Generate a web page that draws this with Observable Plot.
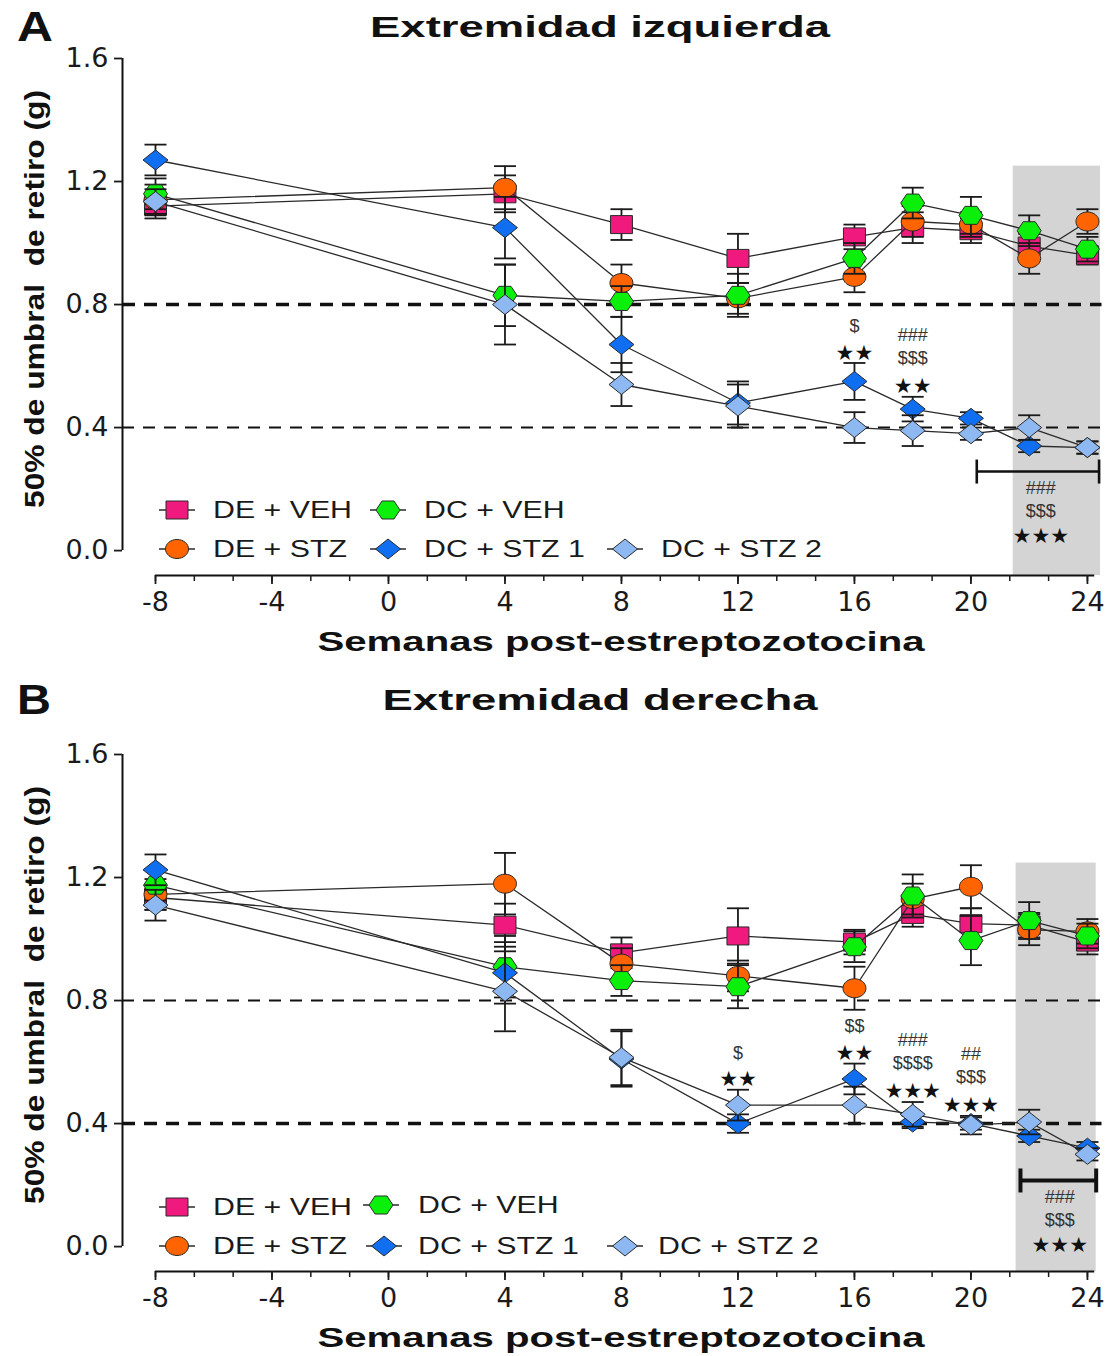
<!DOCTYPE html>
<html><head><meta charset="utf-8">
<script src="https://cdn.jsdelivr.net/npm/d3@7"></script>
<script src="https://cdn.jsdelivr.net/npm/@observablehq/plot@0.6"></script>
<style>
body{margin:0;background:#fff;}
#root{position:relative;width:1111px;height:1356px;overflow:hidden;font-family:"Liberation Sans",Arial,sans-serif;color:#111;}
.abs{position:absolute;white-space:pre;line-height:1;}
</style></head><body><div id="root"></div>
<script>
// ---------------- DATA ----------------
const weeks = [-8, 4, 8, 12, 16, 18, 20, 22, 24];
const groups = ["DE + VEH", "DE + STZ", "DC + VEH", "DC + STZ 1", "DC + STZ 2"];

// Panel A: Extremidad izquierda (mean, SEM)
const izqDEVEH   = [1.12, 1.16, 1.06, 0.95, 1.02, 1.05, 1.04, 0.99, 0.96];
const izqDEVEHe  = [0.04, 0.06, 0.05, 0.08, 0.04, 0.05, 0.04, 0.04, 0.03];
const izqDESTZ   = [1.14, 1.18, 0.87, 0.82, 0.89, 1.07, 1.06, 0.95, 1.07];
const izqDESTZe  = [0.05, 0.07, 0.06, 0.05, 0.05, 0.05, 0.04, 0.05, 0.04];
const izqDCVEH   = [1.16, 0.83, 0.81, 0.83, 0.95, 1.13, 1.09, 1.04, 0.98];
const izqDCVEHe  = [0.05, 0.10, 0.05, 0.07, 0.05, 0.05, 0.06, 0.05, 0.04];
const izqDCSTZ1  = [1.27, 1.05, 0.67, 0.48, 0.55, 0.46, 0.43, 0.34, 0.335];
const izqDCSTZ1e = [0.05, 0.10, 0.09, 0.07, 0.06, 0.04, 0.02, 0.02, 0.02];
const izqDCSTZ2  = [1.135, 0.80, 0.54, 0.47, 0.40, 0.39, 0.38, 0.40, 0.335];
const izqDCSTZ2e = [0.04, 0.13, 0.07, 0.07, 0.05, 0.05, 0.02, 0.04, 0.02];

// Panel B: Extremidad derecha (mean, SEM)
const derDEVEH   = [1.135, 1.045, 0.955, 1.01, 0.99, 1.08, 1.05, 1.045, 0.99];
const derDEVEHe  = [0.04, 0.07, 0.05, 0.09, 0.04, 0.04, 0.05, 0.04, 0.04];
const derDESTZ   = [1.145, 1.18, 0.92, 0.88, 0.84, 1.13, 1.17, 1.03, 1.025];
const derDESTZe  = [0.05, 0.10, 0.05, 0.05, 0.07, 0.05, 0.07, 0.05, 0.04];
const derDCVEH   = [1.175, 0.91, 0.865, 0.845, 0.975, 1.14, 0.995, 1.06, 1.01];
const derDCVEHe  = [0.05, 0.10, 0.05, 0.07, 0.05, 0.07, 0.08, 0.06, 0.04];
const derDCSTZ1  = [1.225, 0.89, 0.61, 0.40, 0.545, 0.405, 0.40, 0.36, 0.32];
const derDCSTZ1e = [0.05, 0.10, 0.09, 0.03, 0.05, 0.02, 0.02, 0.02, 0.02];
const derDCSTZ2  = [1.11, 0.83, 0.615, 0.46, 0.46, 0.43, 0.395, 0.405, 0.30];
const derDCSTZ2e = [0.05, 0.13, 0.09, 0.05, 0.06, 0.04, 0.03, 0.04, 0.02];

// reference lines
const dashThickA = [0.8], dashThinA = [0.4];
const dashThickB = [0.4], dashThinB = [0.8];

// shaded window (weeks) and its top
const shadeA = {x1: 21.45, x2: 24.45, y2: 1.25};
const shadeB = {x1: 21.55, x2: 24.3, y2: 1.247};

// significance annotations (bottom-to-top lines), anchored on a series' upper error bar
const annotA = [
  {x: 16, series: "DC + STZ 1", labels: ["**", "$"]},
  {x: 18, series: "DC + STZ 1", labels: ["**", "$$$", "###"]}
];
const annotB = [
  {x: 12, series: "DC + STZ 2", labels: ["**", "$"]},
  {x: 16, series: "DC + STZ 1", labels: ["**", "$$"]},
  {x: 18, series: "DC + STZ 2", labels: ["***", "$$$$", "###"]},
  {x: 20, series: "DC + STZ 2", labels: ["***", "$$$", "##"]}
];
// bracket over a range of weeks with labels below it
const bracketA = {x1: 20.2, x2: 24.4, y: 0.257, cx: 22.4, labels: ["###", "$$$", "***"]};
const bracketB = {x1: 21.7, x2: 24.3, y: 0.215, cx: 23.05, labels: ["###", "$$$", "***"]};

// axis ticks
const xTicks = [-8, -4, 0, 4, 8, 12, 16, 20, 24];
const xMinorTicks = d3.range(-8, 24.01, 4 / 3);
const yTicks = [0, 0.4, 0.8, 1.2, 1.6];

// ---------------- STYLE ----------------
const colors = {"DE + VEH": "#F0197D", "DE + STZ": "#FF6400", "DC + VEH": "#0BF00B", "DC + STZ 1": "#0F6FF0", "DC + STZ 2": "#8DB8F2"};
const shapeSquare = {draw(c){c.moveTo(-11,-9);c.lineTo(11,-9);c.lineTo(11,9);c.lineTo(-11,9);c.closePath();}};
const shapeEllipse = {draw(c){const a=11.5,b=9.5,k=0.5523;c.moveTo(a,0);c.bezierCurveTo(a,b*k,a*k,b,0,b);c.bezierCurveTo(-a*k,b,-a,b*k,-a,0);c.bezierCurveTo(-a,-b*k,-a*k,-b,0,-b);c.bezierCurveTo(a*k,-b,a,-b*k,a,0);c.closePath();}};
const shapeHex = {draw(c){c.moveTo(-12,0);c.lineTo(-6,-9);c.lineTo(6,-9);c.lineTo(12,0);c.lineTo(6,9);c.lineTo(-6,9);c.closePath();}};
const shapeDiamond = {draw(c){c.moveTo(0,-10);c.lineTo(12.5,0);c.lineTo(0,10);c.lineTo(-12.5,0);c.closePath();}};
const shapes = {"DE + VEH": shapeSquare, "DE + STZ": shapeEllipse, "DC + VEH": shapeHex, "DC + STZ 1": shapeDiamond, "DC + STZ 2": shapeDiamond};
const capH = {draw(c){c.moveTo(-11,0);c.lineTo(11,0);}};
const capV = {draw(c){c.moveTo(0,-12);c.lineTo(0,12);}};

const X_MIN = -9.133, X_MAX = 24.5, Y_MIN = -0.081;

function buildRows(means, errs) {
  const rows = [];
  groups.forEach((g, gi) => weeks.forEach((w, i) => rows.push({group: g, week: w, v: means[gi][i], e: errs[gi][i]})));
  return rows;
}
const rowsA = buildRows([izqDEVEH, izqDESTZ, izqDCVEH, izqDCSTZ1, izqDCSTZ2], [izqDEVEHe, izqDESTZe, izqDCVEHe, izqDCSTZ1e, izqDCSTZ2e]);
const rowsB = buildRows([derDEVEH, derDESTZ, derDCVEH, derDCSTZ1, derDCSTZ2], [derDEVEHe, derDESTZe, derDCVEHe, derDCSTZ1e, derDCSTZ2e]);

const star = s => s.replace(/\*/g, "★");
const starStyle = {fontSize: 21, fontFamily: "DejaVu Sans", fill: "#111", letterSpacing: 1};
const symStyle = {fontSize: 18, fontFamily: "Liberation Sans", fill: "#333", letterSpacing: 3};

function drawPanel(rows, cfg) {
  const marks = [
    Plot.rect([cfg.shade], {x1: "x1", x2: "x2", y1: Y_MIN, y2: "y2", fill: "#d4d4d4"}),
    Plot.ruleY(cfg.thin, {stroke: "#111", strokeWidth: 2, strokeDasharray: "12,9"}),
    Plot.ruleY(cfg.thick, {stroke: "#111", strokeWidth: 3.4, strokeDasharray: "13,9"}),
    Plot.ruleX([X_MIN], {y1: 0, y2: 1.6, stroke: "#111", strokeWidth: 2}),
    Plot.ruleY([Y_MIN], {x1: -8, x2: 24.25, stroke: "#111", strokeWidth: 2}),
    Plot.axisY(yTicks, {anchor: "left", tickSize: 8, tickPadding: 6, tickFormat: d => d.toFixed(1), fontSize: 27, fontFamily: "DejaVu Sans", strokeWidth: 1.8, label: null}),
    Plot.axisX(xTicks, {anchor: "bottom", tickSize: 9, tickPadding: 7, tickFormat: d => String(d), fontSize: 27, fontFamily: "DejaVu Sans", strokeWidth: 1.8, label: null}),
    Plot.axisX(xMinorTicks, {anchor: "bottom", tickSize: 6, tickFormat: () => "", strokeWidth: 1.5, label: null})
  ];
  for (const g of groups) {
    const rg = rows.filter(d => d.group === g);
    marks.push(
      Plot.line(rg, {x: "week", y: "v", stroke: "#2a2a2a", strokeWidth: 1.3}),
      Plot.ruleX(rg, {x: "week", y1: d => d.v - d.e, y2: d => d.v + d.e, stroke: "#1a1a1a", strokeWidth: 1.8}),
      Plot.dot(rg, {x: "week", y: d => d.v + d.e, symbol: capH, fill: "none", stroke: "#1a1a1a", strokeWidth: 1.8}),
      Plot.dot(rg, {x: "week", y: d => d.v - d.e, symbol: capH, fill: "none", stroke: "#1a1a1a", strokeWidth: 1.8}),
      Plot.dot(rg, {x: "week", y: "v", symbol: shapes[g], fill: colors[g], stroke: "#2a2a2a", strokeWidth: 1})
    );
  }
  // annotations
  const two = [-12, -37], three = [-13, -39, -62];
  const annRows = [];
  for (const a of cfg.annot) {
    const r = rows.find(d => d.group === a.series && d.week === a.x);
    const offs = a.labels.length === 2 ? two : three;
    a.labels.forEach((l, k) => annRows.push({x: a.x, y: r.v + r.e, label: star(l), off: offs[k], isStar: l.includes("*")}));
  }
  const offsets = [...new Set(annRows.map(d => d.off))];
  for (const o of offsets) {
    const sub = annRows.filter(d => d.off === o);
    marks.push(Plot.text(sub.filter(d => d.isStar), {x: "x", y: "y", text: "label", dy: o + 2, ...starStyle}));
    marks.push(Plot.text(sub.filter(d => !d.isStar), {x: "x", y: "y", text: "label", dy: o, ...symStyle}));
  }
  // bracket
  const b = cfg.bracket;
  marks.push(
    Plot.ruleY([b], {x1: "x1", x2: "x2", y: "y", stroke: "#111", strokeWidth: cfg.bw}),
    Plot.dot([b], {x: "x1", y: "y", symbol: capV, fill: "none", stroke: "#111", strokeWidth: cfg.bw}),
    Plot.dot([b], {x: "x2", y: "y", symbol: capV, fill: "none", stroke: "#111", strokeWidth: cfg.bw})
  );
  const bOffs = [17, 40, 64];
  b.labels.forEach((l, k) => {
    const isStar = l.includes("*");
    marks.push(Plot.text([{x: b.cx, y: b.y, label: star(l)}], {x: "x", y: "y", text: "label", dy: bOffs[k] + (isStar ? 1 : 0), ...(isStar ? starStyle : symStyle)}));
  });
  return Plot.plot({
    width: 1111, height: 620, marginTop: 18, marginBottom: 85, marginLeft: 122, marginRight: 9.5,
    x: {domain: [X_MIN, X_MAX], label: null},
    y: {domain: [Y_MIN, 1.6], label: null},
    style: {background: "transparent", overflow: "visible", color: "#1a1a1a"},
    marks
  });
}

// ---------------- LAYOUT ----------------
const root = document.getElementById("root");
function addPlot(svg, top) {
  svg.style.position = "absolute"; svg.style.left = "0px"; svg.style.top = top + "px";
  root.appendChild(svg);
}
addPlot(drawPanel(rowsA, {shade: shadeA, thick: dashThickA, thin: dashThinA, annot: annotA, bracket: bracketA, bw: 2.6}), 40);
addPlot(drawPanel(rowsB, {shade: shadeB, thick: dashThickB, thin: dashThinB, annot: annotB, bracket: bracketB, bw: 4}), 736);

function label(text, o) {
  const el = document.createElement("div");
  el.className = "abs";
  el.textContent = text;
  el.style.fontSize = o.size + "px";
  el.style.fontWeight = o.bold ? "bold" : "normal";
  el.style.color = o.color || "#111";
  root.appendChild(el);
  const w = el.getBoundingClientRect().width;
  const s = o.w ? o.w / w : 1;
  if (o.anchor === "left") {
    el.style.left = o.x + "px"; el.style.top = o.y + "px";
    el.style.transformOrigin = "0 0";
    el.style.transform = `translateY(-50%) scaleX(${s})`;
  } else {
    el.style.left = o.x + "px"; el.style.top = o.y + "px";
    el.style.transform = `translate(-50%,-50%) ${o.rot ? "rotate(-90deg) " : ""}scaleX(${s})`;
  }
  return el;
}
// panel letters & titles
label("A", {x: 17, y: 27, size: 42, bold: true, anchor: "left", w: 36});
label("Extremidad izquierda", {x: 600, y: 27, size: 29, bold: true, w: 460});
label("B", {x: 17, y: 700, size: 42, bold: true, anchor: "left", w: 34});
label("Extremidad derecha", {x: 600, y: 700, size: 29, bold: true, w: 435});
for (const off of [0, 696]) {
  label("50% de umbral  de retiro (g)", {x: 35, y: 299 + off, size: 27, bold: true, rot: true, w: 418});
  label("Semanas post-estreptozotocina", {x: 621, y: 642 + off, size: 28, bold: true, w: 607});
}

// legends
const legendLayout = [
  {off: 0, items: [
    {g: "DE + VEH", sx: 177, tx: 213, y: 510}, {g: "DC + VEH", sx: 388, tx: 424, y: 510},
    {g: "DE + STZ", sx: 177, tx: 213, y: 549}, {g: "DC + STZ 1", sx: 388, tx: 424, y: 549}, {g: "DC + STZ 2", sx: 625, tx: 661, y: 549}]},
  {off: 696, items: [
    {g: "DE + VEH", sx: 177, tx: 213, y: 511}, {g: "DC + VEH", sx: 381, tx: 418, y: 509},
    {g: "DE + STZ", sx: 177, tx: 213, y: 550}, {g: "DC + STZ 1", sx: 384, tx: 418, y: 550}, {g: "DC + STZ 2", sx: 625, tx: 658, y: 550}]}
];
const probe = document.createElement("div"); probe.className = "abs"; probe.style.fontSize = "24px"; probe.textContent = "DE + VEH";
root.appendChild(probe); const legScale = 139 / probe.getBoundingClientRect().width; probe.remove();
for (const L of legendLayout) {
  for (const it of L.items) {
    const p = d3.path(); shapes[it.g].draw(p);
    const svg = d3.create("svg").attr("width", 44).attr("height", 28)
      .style("position", "absolute").style("left", (it.sx - 22) + "px").style("top", (it.y + L.off - 14) + "px").style("overflow", "visible");
    svg.append("line").attr("x1", 4).attr("x2", 40).attr("y1", 14).attr("y2", 14).attr("stroke", "#2a2a2a").attr("stroke-width", 1.5);
    svg.append("path").attr("d", p.toString()).attr("transform", "translate(22,14)").attr("fill", colors[it.g]).attr("stroke", "#2a2a2a").attr("stroke-width", 1);
    root.appendChild(svg.node());
    const el = document.createElement("div"); el.className = "abs"; el.textContent = it.g;
    el.style.fontSize = "24px"; el.style.color = "#1a1a1a";
    el.style.left = it.tx + "px"; el.style.top = (it.y + L.off) + "px";
    el.style.transformOrigin = "0 0"; el.style.transform = `translateY(-50%) scaleX(${legScale})`;
    root.appendChild(el);
  }
}
</script></body></html>
